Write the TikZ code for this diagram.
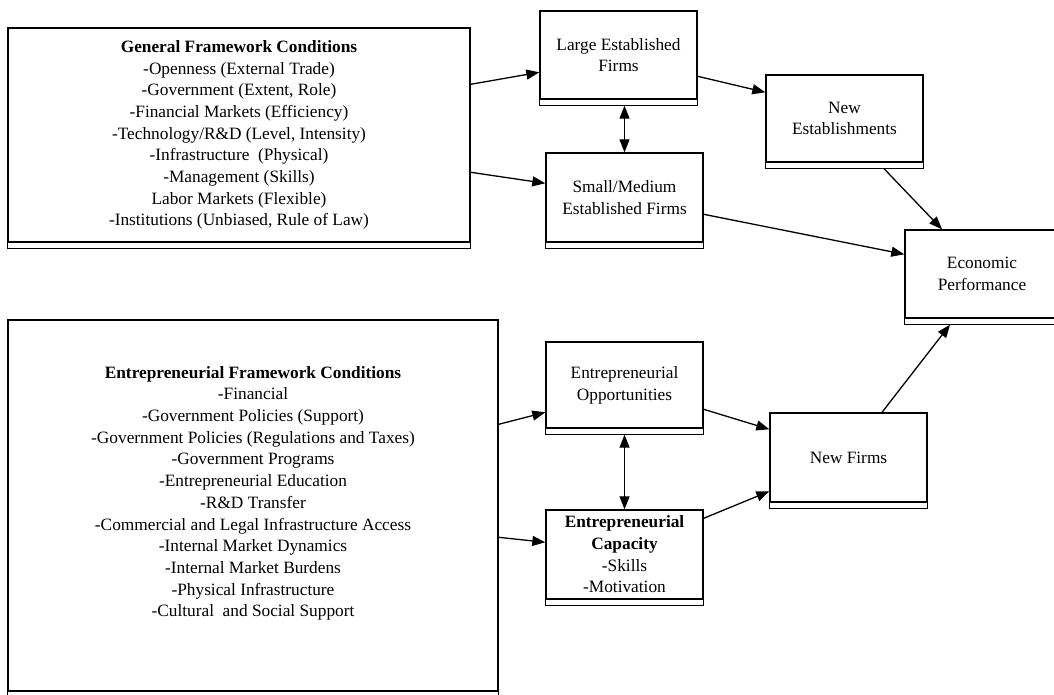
\documentclass[tikz,border=0pt]{standalone}
\usepackage{fontspec}
\setmainfont{Liberation Serif}
\usetikzlibrary{arrows.meta}
\tikzset{
  boxc/.style={draw, line width=1.4pt, align=center, inner sep=0pt,
    font=\fontsize{17.3}{21.7}\selectfont},
  strip/.style={draw, line width=1.4pt},
  arr/.style={line width=1.3pt, -{Triangle[length=13pt,width=10pt]}},
  darr/.style={line width=1.3pt, {Triangle[length=13pt,width=10pt]}-{Triangle[length=13pt,width=10pt]}}
}
\begin{document}
\begin{tikzpicture}[x=1pt,y=-1pt]
\clip (0,0) rectangle (1054,695);
\fill[white] (0,0) rectangle (1054,695);

\node[boxc, minimum width=462pt, minimum height=214pt] (gfc) at (239,135)
 {\textbf{General Framework Conditions}\\
  -Openness (External Trade)\\
  -Government (Extent, Role)\\
  -Financial Markets (Efficiency)\\
  -Technology/R\&D (Level, Intensity)\\
  -Infrastructure\ \ (Physical)\\
  -Management (Skills)\\
  Labor Markets (Flexible)\\
  -Institutions (Unbiased, Rule of Law)};

\node[boxc, minimum width=490pt, minimum height=371pt, text depth=28pt] (efc) at (253,505.5)
 {\textbf{Entrepreneurial Framework Conditions}\\
  -Financial\\
  -Government Policies (Support)\\
  -Government Policies (Regulations and Taxes)\\
  -Government Programs\\
  -Entrepreneurial Education\\
  -R\&D Transfer\\
  -Commercial and Legal Infrastructure Access\\
  -Internal Market Dynamics\\
  -Internal Market Burdens\\
  -Physical Infrastructure\\
  -Cultural\ \ and Social Support};

\node[boxc, minimum width=157pt, minimum height=88pt] (lef) at (618.5,55) {Large Established\\Firms};
\node[boxc, minimum width=157pt, minimum height=89pt] (smef) at (624.5,197.5) {Small/Medium\\Established Firms};
\node[boxc, minimum width=157pt, minimum height=87pt] (ne) at (844.5,118.5) {New\\Establishments};
\node[boxc, minimum width=154pt, minimum height=88pt] (ep) at (982,274) {Economic\\Performance};
\node[boxc, minimum width=157pt, minimum height=86pt] (eo) at (624.5,385) {Entrepreneurial\\Opportunities};
\node[boxc, minimum width=157pt, minimum height=89pt] (nf) at (848.5,457.5) {New Firms};
\node[boxc, minimum width=157pt, minimum height=89pt] (ec) at (624.5,554.5)
 {\textbf{Entrepreneurial}\\\textbf{Capacity}\\-Skills\\-Motivation};

\foreach \n in {gfc,efc,lef,smef,ne,ep,eo,nf,ec}
  \draw[strip] (\n.south west) rectangle ([yshift=-6pt]\n.south east);

% connectors
\draw[arr] ([yshift=-57pt]gfc.north east) -- ([yshift=-62pt]lef.north west);
\draw[arr] ([yshift=-145pt]gfc.north east) -- ([yshift=-31pt]smef.north west);
\draw[arr] ([yshift=-66pt]lef.north east) -- ([yshift=-18pt]ne.north west);
\draw[darr] ([yshift=-6pt]lef.south -| smef.north) -- (smef.north);
\draw[arr] ([xshift=39.5pt,yshift=-6pt]ne.south) -- ([xshift=-40pt]ep.north);
\draw[arr] ([yshift=-62pt]smef.north east) -- ([yshift=-25pt]ep.north west);
\draw[arr] ([yshift=-105pt]efc.north east) -- ([yshift=-71pt]eo.north west);
\draw[arr] ([yshift=-218pt]efc.north east) -- ([yshift=-33pt]ec.north west);
\draw[darr] ([yshift=-6pt]eo.south) -- (ec.north);
\draw[arr] ([yshift=-68pt]eo.north east) -- ([yshift=-17pt]nf.north west);
\draw[arr] ([yshift=-9pt]ec.north east) -- ([yshift=-79pt]nf.north west);
\draw[arr] ([xshift=33.5pt]nf.north) -- ([xshift=-32pt,yshift=-6pt]ep.south);
\end{tikzpicture}
\end{document}
